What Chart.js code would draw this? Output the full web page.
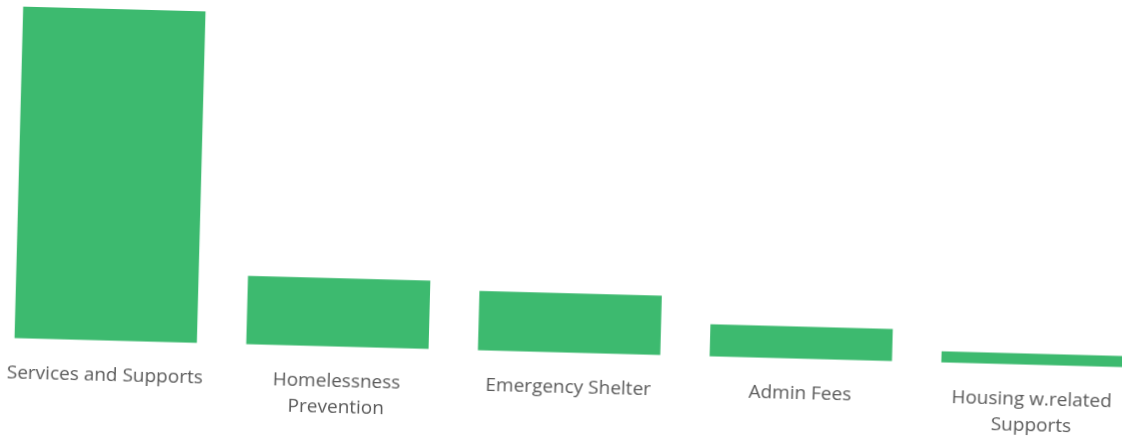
<!DOCTYPE html>
<html>
<head>
<meta charset="utf-8">
<script src="https://cdn.jsdelivr.net/npm/chart.js@4"></script>
<style>
  html, body { margin: 0; padding: 0; background: #fff; overflow: hidden; }
  body { width: 1122px; height: 440px; position: relative; }
  /* the printed page sits a little askew */
  #wrap {
    position: absolute; left: -11px; top: 0;
    width: 1163px; height: 448px;
    transform: rotate(1.5deg);
    transform-origin: 580px 220px;
  }
</style>
</head>
<body>
<div id="wrap"><canvas id="spendChart"></canvas></div>
<script>
// Spending by category
const categories = [
    'Services and Supports',
    ['Homelessness', 'Prevention'],
    'Emergency Shelter',
    'Admin Fees',
    ['Housing w.related', 'Supports']
];
const amounts = [329, 68, 59, 32, 11];

const barColor = '#3dba6f';

const ctx = document.getElementById('spendChart').getContext('2d');
const spendChart = new Chart(ctx, {
    type: 'bar',
    data: {
        labels: categories,
        datasets: [{
            data: amounts,
            backgroundColor: barColor,
            borderWidth: 0,
            categoryPercentage: 1,
            barPercentage: 0.787
        }]
    },
    options: {
        responsive: true,
        maintainAspectRatio: false,
        animation: false,
        layout: { padding: { top: 21, bottom: 0, left: 0, right: 0 } },
        plugins: {
            legend: { display: false },
            tooltip: { enabled: false }
        },
        scales: {
            x: {
                grid: { display: false, drawTicks: false },
                border: { display: false },
                ticks: {
                    color: '#5a5a5a',
                    padding: 22,
                    maxRotation: 0,
                    autoSkip: false,
                    font: { family: '"Open Sans", sans-serif', size: 19, lineHeight: 1.35 }
                }
            },
            y: {
                display: false,
                min: 0,
                max: 329
            }
        }
    }
});
</script>
</body>
</html>
